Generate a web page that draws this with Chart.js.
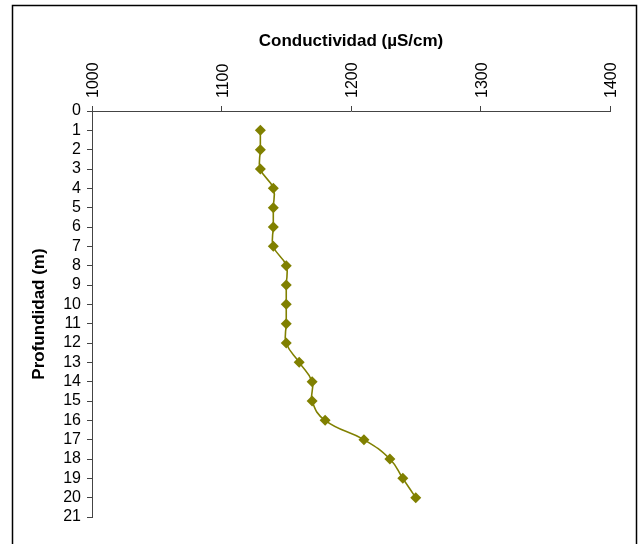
<!DOCTYPE html>
<html>
<head>
<meta charset="utf-8">
<script src="https://cdn.jsdelivr.net/npm/chart.js@4/dist/chart.umd.min.js"></script>
<style>
html,body{margin:0;padding:0;background:#fff;}
#wrap{width:641px;height:544px;position:relative;}
</style>
</head>
<body>
<div id="wrap"><canvas id="c" width="641" height="544"></canvas></div>
<script>
const depths = [1,2,3,4,5,6,7,8,9,10,11,12,13,14,15,16,17,18,19,20];
const conductivity = [1130,1130,1130,1140,1140,1140,1140,1150,1150,1150,1150,1150,1160,1170,1170,1180,1210,1230,1240,1250];
const xTitle = 'Conductividad (µS/cm)';
const yTitle = 'Profundidad (m)';
const xMin = 1000, xMax = 1400, xStep = 100;
const yMin = 0, yMax = 21, yStep = 1;

const points = depths.map((d, i) => ({x: conductivity[i], y: d}));
const olive = '#808000';
const axisColor = '#444';
const fontFam = '"Liberation Sans", Arial, sans-serif';

const frame = {
  id: 'frame',
  afterDraw(chart) {
    const ctx = chart.ctx;
    ctx.save();
    ctx.strokeStyle = '#000';
    ctx.lineWidth = 1.5;
    ctx.strokeRect(12.5, 5.5, 624, 600);
    ctx.restore();
  }
};

new Chart(document.getElementById('c'), {
  type: 'scatter',
  data: {
    datasets: [{
      data: points,
      showLine: true,
      borderColor: olive,
      backgroundColor: olive,
      borderWidth: 1.6,
      tension: 0.45,
      pointStyle: 'rectRot',
      pointRadius: 5.5,
      pointHoverRadius: 5.5,
      pointBackgroundColor: olive,
      pointBorderColor: olive,
      pointBorderWidth: 0
    }]
  },
  options: {
    responsive: false,
    animation: false,
    events: [],
    layout: {padding: {left: 20, top: 20, right: 31, bottom: 27}},
    plugins: {legend: {display: false}, tooltip: {enabled: false}},
    scales: {
      x: {
        type: 'linear',
        position: 'top',
        min: xMin, max: xMax,
        afterFit(s) { s.height = 91; },
        border: {display: true, color: axisColor, width: 1},
        grid: {display: true, drawOnChartArea: false, drawTicks: true, tickLength: 5, color: axisColor},
        ticks: {
          stepSize: xStep, autoSkip: false, minRotation: 90, maxRotation: 90,
          color: '#000', padding: 8, labelOffset: 21,
          callback: (v) => String(v),
          font: {family: fontFam, size: 16}
        },
        title: {
          display: true, text: xTitle, color: '#000',
          font: {family: fontFam, size: 17, weight: 'bold'},
          padding: {top: 11, bottom: 0}
        }
      },
      y: {
        type: 'linear',
        position: 'left',
        reverse: true,
        min: yMin, max: yMax,
        afterFit(s) { s.width = 72; },
        border: {display: true, color: axisColor, width: 1},
        grid: {display: true, drawOnChartArea: false, drawTicks: true, tickLength: 5, color: axisColor},
        ticks: {
          stepSize: yStep, autoSkip: false, color: '#000', padding: 6,
          callback: (v) => String(v),
          font: {family: fontFam, size: 16}
        },
        title: {
          display: true, text: yTitle, color: '#000',
          font: {family: fontFam, size: 17, weight: 'bold'},
          padding: {top: 9, bottom: 0}
        }
      }
    }
  },
  plugins: [frame]
});
</script>
</body>
</html>
